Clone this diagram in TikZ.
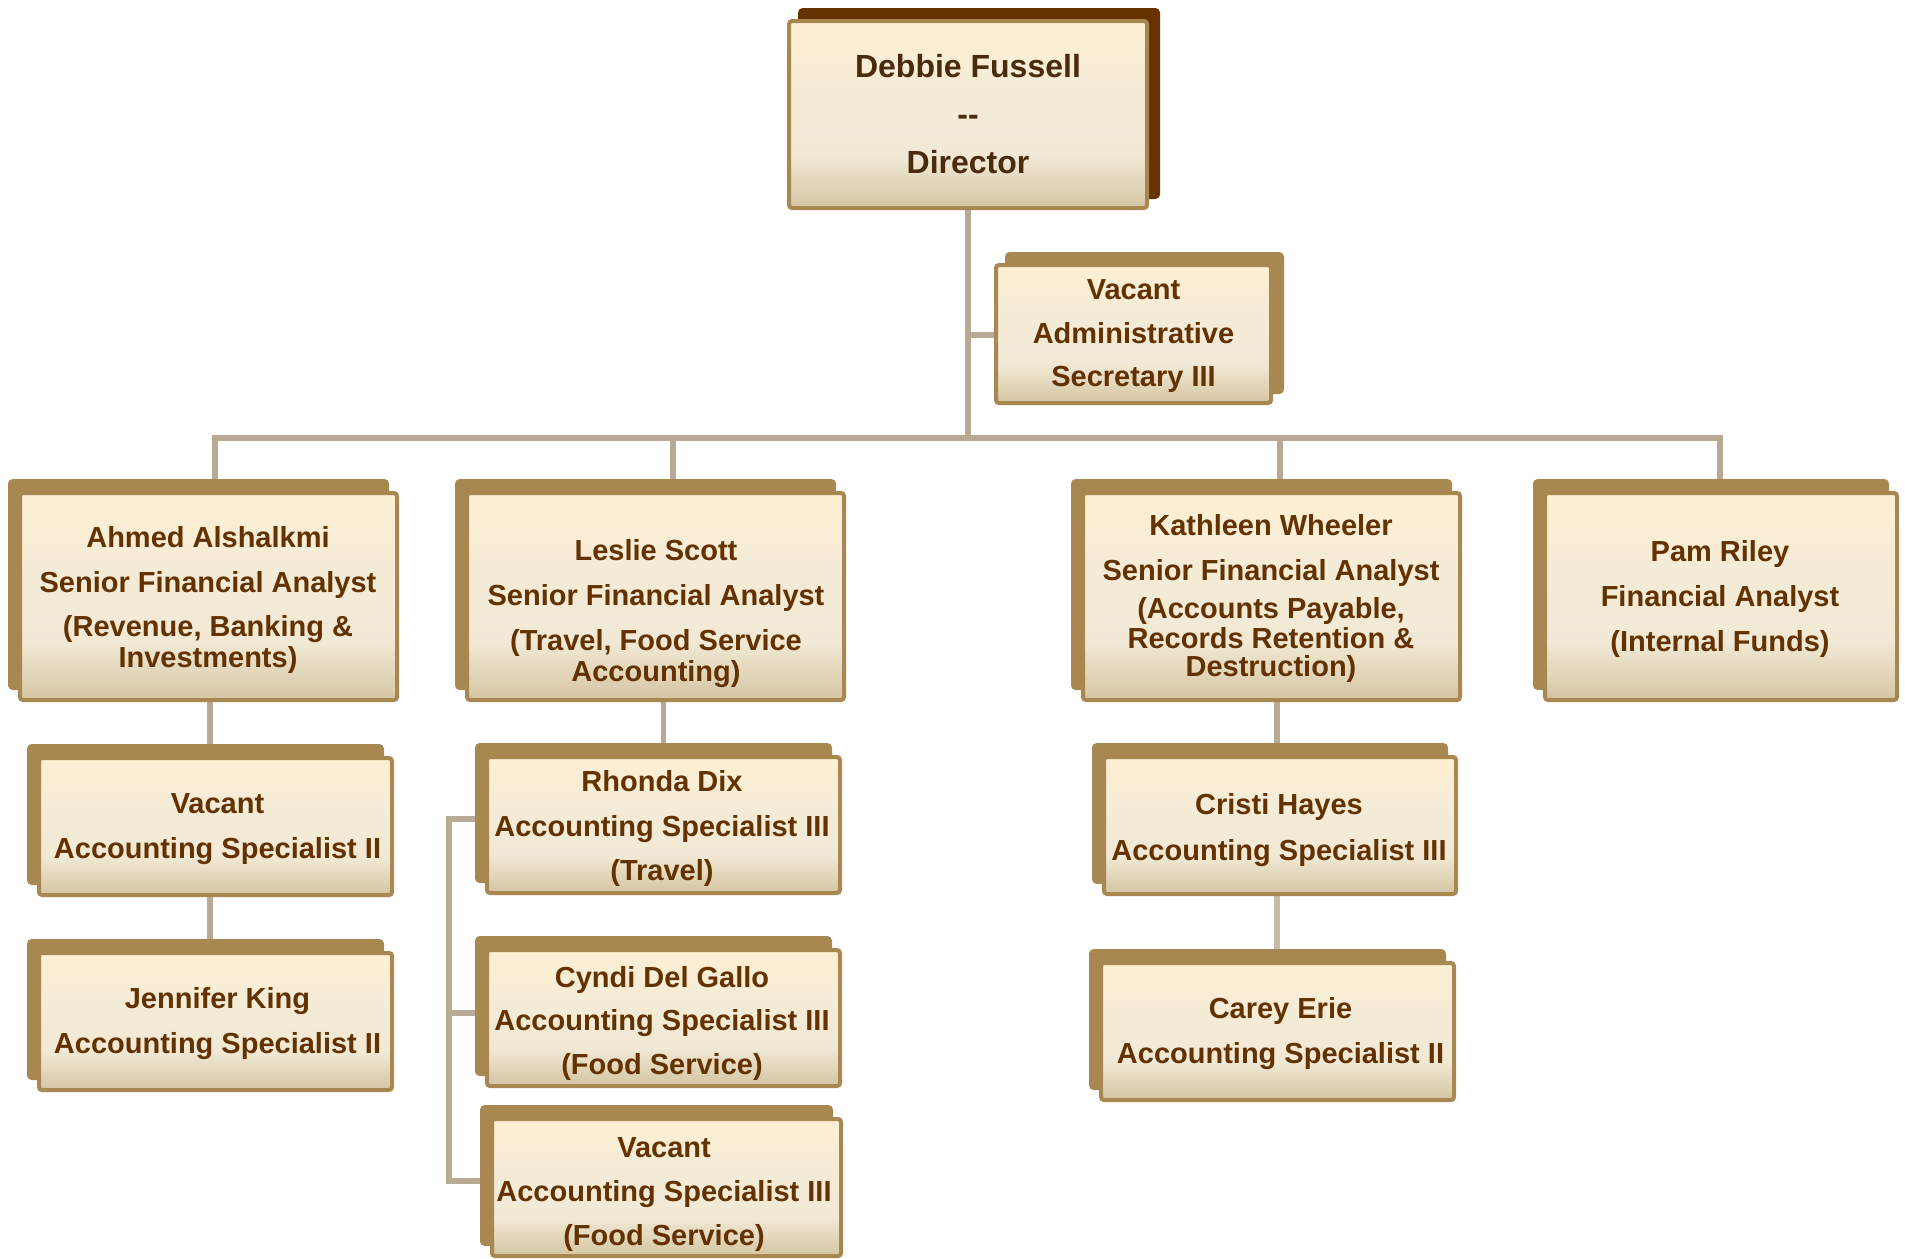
\documentclass[tikz,border=0pt]{standalone}
\usepackage{fontspec}
\setmainfont{Liberation Sans}
\usetikzlibrary{shadows,backgrounds}
\definecolor{txt}{HTML}{633200}
\definecolor{dtxt}{HTML}{4B2B0E}
\definecolor{bord}{HTML}{A88850}
\definecolor{dshadow}{HTML}{663300}
\definecolor{connc}{HTML}{B8AA95}
\definecolor{shBot}{HTML}{D4C5A2}
\definecolor{shMid}{HTML}{F1E9D5}
\definecolor{shMidB}{HTML}{F5ECD7}
\definecolor{shTop}{HTML}{FDEFD2}
\pgfdeclareverticalshading{boxshade}{100bp}{color(0bp)=(shBot); color(25bp)=(shBot); color(39bp)=(shMid); color(58bp)=(shMidB); color(75bp)=(shTop); color(100bp)=(shTop)}
\tikzset{
  orgbox/.style={rectangle, rounded corners=1.5pt, draw=bord, line width=2pt, shading=boxshade, inner sep=0pt},
  lshadow/.style={general shadow={shadow xshift=-5pt, shadow yshift=6pt, fill=bord, draw=bord}},
  rshadow/.style={general shadow={shadow xshift=5.5pt, shadow yshift=5.5pt, fill=#1, draw=#1}},
  lbl/.style={text=txt, font=\fontsize{14.5pt}{15.5pt}\selectfont\bfseries, align=center, inner sep=0pt, yshift=-2pt},
  dlbl/.style={text=dtxt, font=\fontsize{16pt}{17pt}\selectfont\bfseries, align=center, inner sep=0pt, yshift=-1pt},
  conn/.style={draw=connc, line width=2.75pt, line join=miter}
}
\begin{document}
\begin{tikzpicture}[x=0.5pt, y=-0.5pt]
\useasboundingbox (0,0) rectangle (1905,1258);

% boxes
\node[orgbox, rshadow=dshadow, minimum width=179pt, minimum height=93.5pt] (dir) at (968,114.5) {};
\node[orgbox, rshadow=bord, minimum width=137.5pt, minimum height=69pt] (sec) at (1133.5,334) {};
\node[orgbox, lshadow, minimum width=188.5pt, minimum height=103.5pt] (ahmed) at (208.5,596.5) {};
\node[orgbox, lshadow, minimum width=188.5pt, minimum height=103.5pt] (leslie) at (655.5,596.5) {};
\node[orgbox, lshadow, minimum width=188.5pt, minimum height=103.5pt] (kath) at (1271.5,596.5) {};
\node[orgbox, lshadow, minimum width=176pt, minimum height=103.5pt] (pam) at (1721,596.5) {};
\node[orgbox, lshadow, minimum width=176.5pt, minimum height=68.5pt] (vac2) at (215.5,826.5) {};
\node[orgbox, lshadow, minimum width=176.5pt, minimum height=68.5pt] (jen) at (215.5,1021.5) {};
\node[orgbox, lshadow, minimum width=176.5pt, minimum height=68pt] (rhonda) at (663.5,825) {};
\node[orgbox, lshadow, minimum width=176.5pt, minimum height=68pt] (cyndi) at (663.5,1018) {};
\node[orgbox, lshadow, minimum width=174.5pt, minimum height=68.5pt] (vac3) at (666.5,1187.5) {};
\node[orgbox, lshadow, minimum width=176pt, minimum height=68.5pt] (cristi) at (1280,825.5) {};
\node[orgbox, lshadow, minimum width=176.5pt, minimum height=68.5pt] (carey) at (1277.5,1031.5) {};

% texts
\node[dlbl] (dirT) at (968,112) {Debbie Fussell\\[7pt]-{}-\\[7pt]Director};
\node[lbl] (secT) at (1133.5,332.5) {Vacant\\[6.5pt]Administrative\\[6pt]Secretary III};
\node[lbl] (ahmT) at (208,595.5) {Ahmed Alshalkmi\\[7pt]Senior Financial Analyst\\[6.5pt](Revenue, Banking \&\\Investments)};
\node[lbl] (lesT) at (656,610) {Leslie Scott\\[7pt]Senior Financial Analyst\\[7pt](Travel, Food Service\\Accounting)};
\node[lbl] (katT) at (1271,594.5) {Kathleen Wheeler\\[7pt]Senior Financial Analyst\\[3.5pt](Accounts Payable,\\[-0.5pt]Records Retention \&\\[-1.5pt]Destruction)};
\node[lbl] (pamT) at (1720,594.5) {Pam Riley\\[7pt]Financial Analyst\\[7pt](Internal Funds)};
\node[lbl] (vac2T) at (217.5,825.5) {Vacant\\[7pt]Accounting Specialist II};
\node[lbl] (jenT) at (217.5,1019.5) {Jennifer King\\[7pt]Accounting Specialist II};
\node[lbl] (rhoT) at (662,824.5) {Rhonda Dix\\[7pt]Accounting Specialist III\\[6.5pt](Travel)};
\node[lbl] (cynT) at (662,1019.5) {Cyndi Del Gallo\\[6pt]Accounting Specialist III\\[6.5pt](Food Service)};
\node[lbl] (vac3T) at (664,1190.5) {Vacant\\[6.5pt]Accounting Specialist III\\[6.5pt](Food Service)};
\node[lbl] (criT) at (1279,826) {Cristi Hayes\\[7.5pt]Accounting Specialist III};
\node[lbl] (carT) at (1280.5,1029.5) {Carey Erie\\[7pt]Accounting Specialist II};

% connectors
\begin{scope}[on background layer]
\fill[white] (0,0) rectangle (1905,1258);
\coordinate (bus) at (968,438);
\coordinate (secj) at (968,335);
\coordinate (bA) at (215,438);
\coordinate (bL) at (673,438);
\coordinate (bK) at (1280,438);
\coordinate (bP) at (1720,438);
\coordinate (cA) at (210,0);
\coordinate (cK) at (1277,0);
\coordinate (rj) at (449,819);
\coordinate (cj) at (449,1013);
\coordinate (vj) at (449,1181);
\draw[conn] (dir.south) -- (bus);
\draw[conn] (secj) -- (sec.west |- secj);
\draw[conn] (ahmed.north -| bA) -- (bA) -- (bP) -- (pam.north -| bP);
\draw[conn] (bL) -- (leslie.north -| bL);
\draw[conn] (bK) -- (kath.north -| bK);
\draw[conn] (ahmed.south -| cA) -- (vac2.north -| cA);
\draw[conn] (vac2.south -| cA) -- (jen.north -| cA);
\draw[conn] (leslie.south -| rhonda.north) -- (rhonda.north);
\draw[conn] (rhonda.west |- rj) -- (rj) -- (vj) -- (vac3.west |- vj);
\draw[conn] (cj) -- (cyndi.west |- cj);
\draw[conn] (kath.south -| cK) -- (cristi.north -| cK);
\draw[conn, draw=connc!80] (cristi.south -| cK) -- (carey.north -| cK);
\end{scope}
\end{tikzpicture}
\end{document}
